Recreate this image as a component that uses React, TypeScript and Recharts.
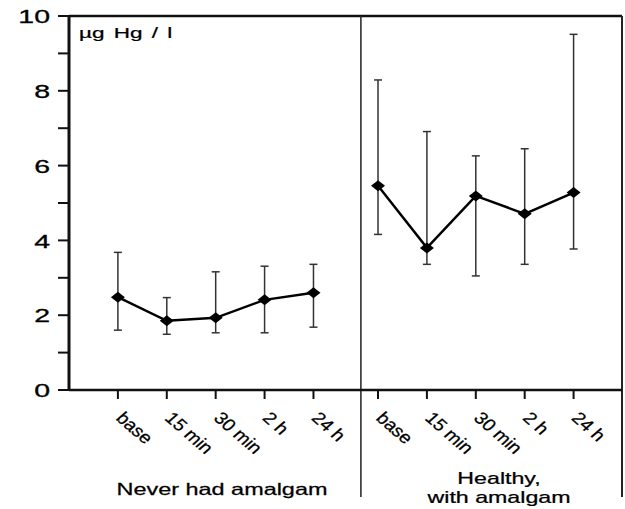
import React from "react";
import {
  ComposedChart,
  Line,
  XAxis,
  YAxis,
  ErrorBar,
  ReferenceLine,
} from "recharts";

const timepoints = ["base", "15 min", "30 min", "2 h", "24 h"];

// never had amalgam
const neverMean = [2.48, 1.85, 1.93, 2.41, 2.6];
const neverHigh = [3.68, 2.47, 3.16, 3.31, 3.36];
const neverLow = [1.6, 1.49, 1.53, 1.53, 1.68];

// healthy, with amalgam
const healthyMean = [5.46, 3.8, 5.19, 4.71, 5.28];
const healthyHigh = [8.29, 6.91, 6.26, 6.45, 9.51];
const healthyLow = [4.16, 3.36, 3.05, 3.36, 3.77];

const yTicks = [0, 1, 2, 3, 4, 5, 6, 7, 8, 9, 10];

// slot positions on the numeric x axis
const leftStart = 1;
const rightStart = 6.32;
const divider = 5.97;
const xMax = 11.31;

const build = (start: number, mean: number[], hi: number[], lo: number[]) =>
  mean.map((m, i) => ({
    x: start + i,
    y: m,
    err: [m - lo[i], hi[i] - m],
  }));

const neverData = build(leftStart, neverMean, neverHigh, neverLow);
const healthyData = build(rightStart, healthyMean, healthyHigh, healthyLow);

const xTicks = [...neverData.map((d) => d.x), ...healthyData.map((d) => d.x)];
const xLabels = [...timepoints, ...timepoints];

const FONT = "'Liberation Sans', Arial, Helvetica, sans-serif";

const Diamond = (props: any) => {
  const { cx, cy, index } = props;
  if (cx == null || cy == null) return <g key={index} />;
  return (
    <path
      key={index}
      d={`M${cx - 7},${cy} L${cx},${cy - 5.5} L${cx + 7},${cy} L${cx},${cy + 5.5} Z`}
      fill="#000"
    />
  );
};

const YTick = (props: any) => {
  const { x, y, payload } = props;
  if (payload.value % 2 !== 0) return <g />;
  return (
    <text
      transform={`translate(${x},${y}) scale(1.5,1)`}
      textAnchor="end"
      dy="0.38em"
      fontSize={19}
      fontFamily={FONT}
      fill="#000"
      stroke="#000"
      strokeWidth={0.3}
    >
      {payload.value}
    </text>
  );
};

const XTick = (props: any) => {
  const { x, y, payload } = props;
  const idx = xTicks.findIndex((t) => Math.abs(t - payload.value) < 0.01);
  return (
    <text
      transform={`translate(${x - 3},${y + 18}) scale(1.15,1) rotate(45)`}
      textAnchor="start"
      fontSize={17}
      fontFamily={FONT}
      fill="#000"
      stroke="#000"
      strokeWidth={0.25}
    >
      {xLabels[idx]}
    </text>
  );
};

export default function App() {
  return (
    <div style={{ position: "absolute", left: 0, top: 0, width: 625, height: 509, background: "#fff" }}>
      <ComposedChart
        width={625}
        height={509}
        margin={{ top: 16, right: 3, left: 9, bottom: 79 }}
      >
        <XAxis
          type="number"
          dataKey="x"
          domain={[0, xMax]}
          ticks={xTicks}
          interval={0}
          tick={<XTick />}
          tickSize={9}
          height={40}
          axisLine={{ stroke: "#111", strokeWidth: 2.5 }}
          tickLine={{ stroke: "#111", strokeWidth: 2 }}
          allowDataOverflow
        />
        <YAxis
          type="number"
          domain={[0, 10]}
          ticks={yTicks}
          interval={0}
          tick={<YTick />}
          tickSize={11}
          tickMargin={8}
          width={60}
          axisLine={{ stroke: "#111", strokeWidth: 3 }}
          tickLine={{ stroke: "#111", strokeWidth: 2 }}
        />
        <ReferenceLine
          segment={[{ x: 0, y: 10 }, { x: xMax, y: 10 }]}
          stroke="#111"
          strokeWidth={2.5}
          ifOverflow="visible"
        />
        <ReferenceLine
          segment={[{ x: divider, y: 10 }, { x: divider, y: -2.86 }]}
          stroke="#222"
          strokeWidth={1.5}
          ifOverflow="visible"
        />
        <ReferenceLine
          segment={[{ x: xMax, y: 10 }, { x: xMax, y: -2.86 }]}
          stroke="#222"
          strokeWidth={2}
          ifOverflow="visible"
        />
        <Line
          data={neverData}
          dataKey="y"
          stroke="#000"
          strokeWidth={2.5}
          dot={<Diamond />}
          activeDot={false}
          isAnimationActive={false}
        >
          <ErrorBar dataKey="err" width={4} stroke="#333" strokeWidth={1.5} direction="y" isAnimationActive={false} />
        </Line>
        <Line
          data={healthyData}
          dataKey="y"
          stroke="#000"
          strokeWidth={2.5}
          dot={<Diamond />}
          activeDot={false}
          isAnimationActive={false}
        >
          <ErrorBar dataKey="err" width={4} stroke="#333" strokeWidth={1.5} direction="y" isAnimationActive={false} />
        </Line>
      </ComposedChart>
      <svg
        width={625}
        height={509}
        style={{ position: "absolute", left: 0, top: 0, pointerEvents: "none" }}
      >
        <text
          transform="translate(79,38) scale(1.5,1)"
          fontSize={15}
          fontFamily={FONT}
          fill="#000"
          stroke="#000"
          strokeWidth={0.25}
          style={{ wordSpacing: 2 }}
        >
          µg Hg / l
        </text>
        <text
          transform="translate(222,495) scale(1.42,1)"
          textAnchor="middle"
          fontSize={16.5}
          fontFamily={FONT}
          fill="#000"
          stroke="#000"
          strokeWidth={0.25}
        >
          Never had amalgam
        </text>
        <text
          transform="translate(499,484) scale(1.45,1)"
          textAnchor="middle"
          fontSize={16}
          fontFamily={FONT}
          fill="#000"
          stroke="#000"
          strokeWidth={0.25}
        >
          Healthy,
        </text>
        <text
          transform="translate(499,503) scale(1.45,1)"
          textAnchor="middle"
          fontSize={16}
          fontFamily={FONT}
          fill="#000"
          stroke="#000"
          strokeWidth={0.25}
        >
          with amalgam
        </text>
      </svg>
    </div>
  );
}
